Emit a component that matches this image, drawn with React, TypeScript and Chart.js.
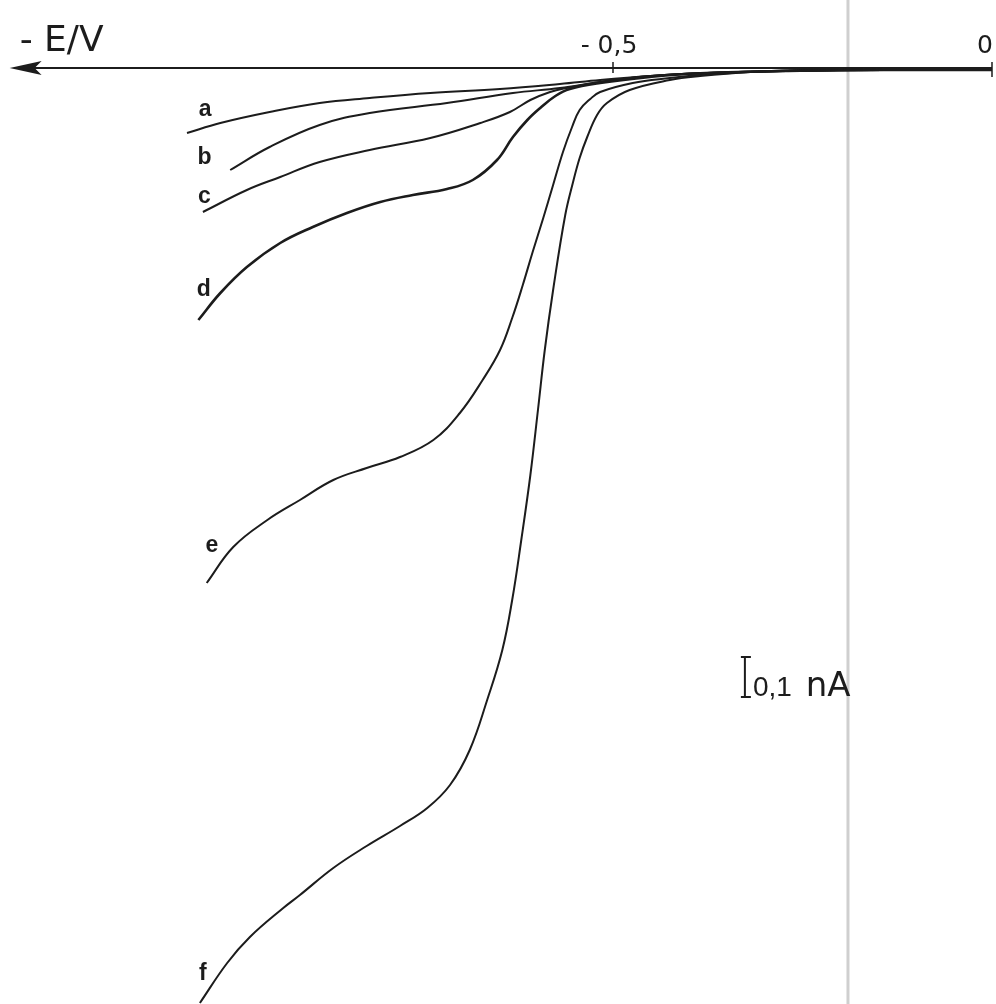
import React, { useEffect, useRef } from "react";
import { Chart, registerables } from "chart.js";

Chart.register(...registerables);

// Potential E (V) and cathodic current i (nA)
const curveNames = ["a", "b", "c", "d", "e", "f"];

const aE = [-1.062, -1.018, -0.953, -0.887, -0.821, -0.741, -0.649, -0.57, -0.517, -0.451, -0.385, -0.253, -0.121, 0];
const aI = [0.1625, 0.1375, 0.11, 0.0875, 0.075, 0.0625, 0.0525, 0.04, 0.03, 0.02, 0.013, 0.007, 0.005, 0.005];

const bE = [-1.005, -0.953, -0.887, -0.821, -0.719, -0.632, -0.57, -0.517, -0.451, -0.385, -0.253, -0.121, 0];
const bI = [0.255, 0.1975, 0.1425, 0.1125, 0.0875, 0.0625, 0.05, 0.035, 0.02, 0.013, 0.007, 0.005, 0.005];

const cE = [-1.041, -0.983, -0.939, -0.887, -0.821, -0.741, -0.675, -0.636, -0.609, -0.583, -0.561, -0.517, -0.451, -0.385, -0.253, -0.121, 0];
const cI = [0.36, 0.305, 0.2725, 0.235, 0.205, 0.175, 0.1375, 0.11, 0.08, 0.06, 0.05, 0.035, 0.02, 0.013, 0.007, 0.005, 0.005];

const dE = [-1.047, -1.018, -0.983, -0.939, -0.896, -0.851, -0.807, -0.764, -0.719, -0.685, -0.653, -0.632, -0.613, -0.596, -0.576, -0.557, -0.517, -0.451, -0.385, -0.253, -0.121, 0];
const dI = [0.63, 0.5625, 0.4975, 0.4375, 0.3975, 0.3625, 0.335, 0.3175, 0.3025, 0.28, 0.23, 0.1725, 0.13, 0.1, 0.07, 0.0525, 0.0375, 0.0225, 0.013, 0.007, 0.005, 0.005];

const eE = [-1.036, -1.001, -0.956, -0.913, -0.869, -0.825, -0.781, -0.737, -0.702, -0.672, -0.649, -0.633, -0.619, -0.606, -0.592, -0.579, -0.566, -0.554, -0.544, -0.53, -0.517, -0.474, -0.425, -0.385, -0.319, -0.253, -0.121, 0];
const eI = [1.2875, 1.1975, 1.13, 1.08, 1.03, 1.0, 0.9725, 0.93, 0.8625, 0.78, 0.705, 0.625, 0.5425, 0.46, 0.375, 0.2925, 0.21, 0.1475, 0.105, 0.0775, 0.06, 0.0375, 0.025, 0.0175, 0.01, 0.005, 0.004, 0.004];

const fE = [-1.045, -1.009, -0.979, -0.935, -0.913, -0.869, -0.825, -0.781, -0.745, -0.715, -0.689, -0.666, -0.646, -0.633, -0.621, -0.609, -0.599, -0.59, -0.579, -0.563, -0.553, -0.544, -0.534, -0.521, -0.508, -0.478, -0.425, -0.385, -0.319, -0.253, -0.121, 0];
const fI = [2.3375, 2.2375, 2.1725, 2.1, 2.0675, 2.0, 1.945, 1.895, 1.85, 1.7925, 1.705, 1.58, 1.455, 1.33, 1.18, 1.0175, 0.855, 0.705, 0.555, 0.3675, 0.2875, 0.225, 0.1725, 0.1175, 0.0875, 0.055, 0.03, 0.02, 0.01, 0.006, 0.004, 0.004];

const curveEs = [aE, bE, cE, dE, eE, fE];
const curveIs = [aI, bI, cI, dI, eI, fI];

// curve label anchor points (E, i)
const labelE = [-1.038, -1.039, -1.039, -1.040, -1.029, -1.041];
const labelI = [0.105, 0.225, 0.3225, 0.555, 1.195, 2.265];

// axis
const xTickValues = [-0.5, 0];
const xTickLabels = ["- 0,5", "0"];
const axisTitle = "- E/V";
const axisStartE = -1.296;
const grayLineE = -0.19;

// current scale bar
const scaleBarE = -0.326;
const scaleBarFrom = 1.4725;
const scaleBarSize = 0.1;
const scaleBarValue = "0,1";
const scaleBarUnit = "nA";

const INK = "#1c1c1c";
const FONT = "'Liberation Sans', Arial, sans-serif";
const WIDE = "'DejaVu Sans', sans-serif";

const decorPlugin = {
  id: "decor",
  beforeDatasetsDraw(chart: any) {
    const { ctx } = chart;
    const x = chart.scales.x;
    const y = chart.scales.y;
    ctx.save();
    // light vertical line
    const gx = x.getPixelForValue(grayLineE);
    ctx.strokeStyle = "#cfcfcf";
    ctx.lineWidth = 3;
    ctx.beginPath();
    ctx.moveTo(gx, 0);
    ctx.lineTo(gx, chart.height);
    ctx.stroke();

    // potential axis with arrow
    const y0 = y.getPixelForValue(0);
    const xl = x.getPixelForValue(axisStartE);
    const xr = x.getPixelForValue(0);
    ctx.strokeStyle = INK;
    ctx.lineWidth = 2;
    ctx.beginPath();
    ctx.moveTo(xl + 20, y0);
    ctx.lineTo(xr, y0);
    ctx.stroke();
    ctx.fillStyle = INK;
    ctx.beginPath();
    ctx.moveTo(xl, y0);
    ctx.lineTo(xl + 32, y0 - 7);
    ctx.lineTo(xl + 25, y0);
    ctx.lineTo(xl + 32, y0 + 7);
    ctx.closePath();
    ctx.fill();

    // ticks + labels
    ctx.lineWidth = 1.5;
    ctx.font = `25px ${WIDE}`;
    ctx.textBaseline = "alphabetic";
    xTickValues.forEach((v, k) => {
      const px = x.getPixelForValue(v);
      ctx.beginPath();
      ctx.moveTo(px, y0 - 6);
      ctx.lineTo(px, y0 + (k === xTickValues.length - 1 ? 9 : 5));
      ctx.stroke();
      if (k === xTickValues.length - 1) {
        ctx.textAlign = "right";
        ctx.fillText(xTickLabels[k], px + 1, y0 - 15);
      } else {
        ctx.textAlign = "center";
        ctx.fillText(xTickLabels[k], px - 4, y0 - 15);
      }
    });

    // axis title
    ctx.font = `36px ${WIDE}`;
    ctx.textAlign = "left";
    ctx.fillText(axisTitle, xl + 10, y0 - 17);
    ctx.restore();
  },
  afterDatasetsDraw(chart: any) {
    const { ctx } = chart;
    const x = chart.scales.x;
    const y = chart.scales.y;
    ctx.save();
    ctx.fillStyle = INK;
    ctx.strokeStyle = INK;
    // curve labels
    ctx.font = `bold 23px ${FONT}`;
    ctx.textAlign = "center";
    ctx.textBaseline = "middle";
    curveNames.forEach((n, k) => {
      ctx.fillText(n, x.getPixelForValue(labelE[k]), y.getPixelForValue(labelI[k]));
    });

    // scale bar
    const bx = x.getPixelForValue(scaleBarE);
    const by1 = y.getPixelForValue(scaleBarFrom);
    const by2 = y.getPixelForValue(scaleBarFrom + scaleBarSize);
    ctx.lineWidth = 2;
    ctx.beginPath();
    ctx.moveTo(bx, by1);
    ctx.lineTo(bx, by2);
    ctx.moveTo(bx - 4, by1);
    ctx.lineTo(bx + 6, by1);
    ctx.moveTo(bx - 4, by2);
    ctx.lineTo(bx + 6, by2);
    ctx.stroke();
    ctx.textAlign = "left";
    ctx.textBaseline = "alphabetic";
    ctx.font = `28px ${FONT}`;
    ctx.fillText(scaleBarValue, bx + 8, by2 - 1);
    const w = ctx.measureText(scaleBarValue).width;
    ctx.font = `34px ${WIDE}`;
    ctx.fillText(scaleBarUnit, bx + 8 + w + 14, by2 - 1);
    ctx.restore();
  },
};

export default function App() {
  const ref = useRef<HTMLCanvasElement | null>(null);
  useEffect(() => {
    if (!ref.current) return;
    const datasets = curveNames.map((n, k) => ({
      label: n,
      data: curveEs[k].map((e, j) => ({ x: e, y: curveIs[k][j] })),
      showLine: true,
      borderColor: INK,
      borderWidth: n === "d" ? 2.6 : 2,
      pointRadius: 0,
      fill: false,
      tension: 0.4,
    }));
    const chart = new Chart(ref.current, {
      type: "scatter",
      data: { datasets },
      options: {
        animation: false,
        responsive: false,
        devicePixelRatio: 1,
        layout: { padding: 0 },
        plugins: { legend: { display: false }, tooltip: { enabled: false } },
        events: [],
        scales: {
          x: { type: "linear", display: false, min: -1.3087, max: 0.00528 },
          y: { type: "linear", display: false, reverse: true, min: -0.17, max: 2.34 },
        },
      },
      plugins: [decorPlugin],
    });
    return () => chart.destroy();
  }, []);
  return (
    <div style={{ position: "fixed", left: 0, top: 0, width: 996, height: 1004, background: "#fff" }}>
      <canvas ref={ref} width={996} height={1004} style={{ display: "block" }} />
    </div>
  );
}
